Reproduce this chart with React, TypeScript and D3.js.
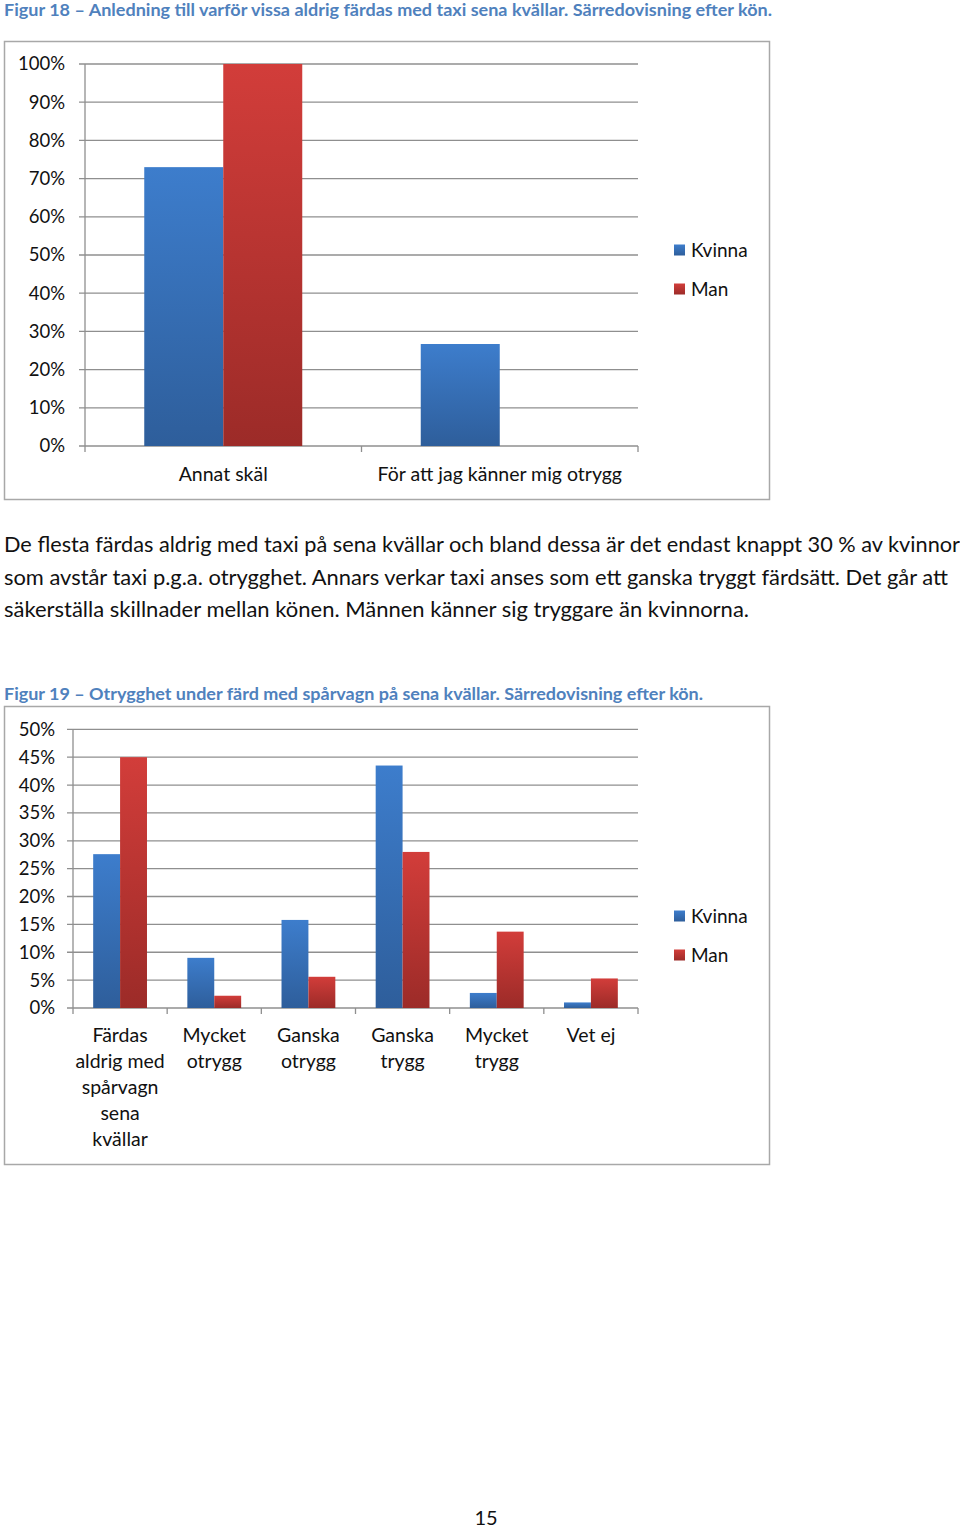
import React from "react";
import * as d3 from "d3";

const series = ["Kvinna", "Man"];
const seriesTop = ["#3d7dcc", "#d23d3a"];
const seriesBottom = ["#2e5e9b", "#9c2b28"];

const chart1Categories = [["Annat skäl"], ["För att jag känner mig otrygg"]];
const chart1Kvinna = [73, 26.7];
const chart1Man = [100, 0];
const chart1Ticks = [0, 10, 20, 30, 40, 50, 60, 70, 80, 90, 100];

const chart2Categories = [
  ["Färdas", "aldrig med", "spårvagn", "sena", "kvällar"],
  ["Mycket", "otrygg"],
  ["Ganska", "otrygg"],
  ["Ganska", "trygg"],
  ["Mycket", "trygg"],
  ["Vet ej"],
];
const chart2Kvinna = [27.6, 9.0, 15.8, 43.5, 2.7, 1.0];
const chart2Man = [45.0, 2.2, 5.6, 28.0, 13.7, 5.3];
const chart2Ticks = [0, 5, 10, 15, 20, 25, 30, 35, 40, 45, 50];

const title1 = "Figur 18 – Anledning till varför vissa aldrig färdas med taxi sena kvällar. Särredovisning efter kön.";
const title2 = "Figur 19 – Otrygghet under färd med spårvagn på sena kvällar. Särredovisning efter kön.";
const paragraph = [
  "De flesta färdas aldrig med taxi på sena kvällar och bland dessa är det endast knappt 30 % av kvinnor",
  "som avstår taxi p.g.a. otrygghet. Annars verkar taxi anses som ett ganska tryggt färdsätt. Det går att",
  "säkerställa skillnader mellan könen. Männen känner sig tryggare än kvinnorna.",
];
const pageNumber = "15";

const FONT = "Lato, 'Noto Sans', sans-serif";

type ChartProps = {
  id: string;
  frame: { x: number; y: number; w: number; h: number };
  axisX: number;
  axisRight: number;
  yTop: number;
  yBottom: number;
  yMax: number;
  ticks: number[];
  tickLabelX: number;
  categories: string[][];
  kvinna: number[];
  man: number[];
  catLabelY: number;
  lineHeight: number;
  legendY: number[];
};

function BarChart(p: ChartProps) {
  const catNames = p.categories.map((c) => c.join(" "));
  const x0 = d3.scaleBand<string>().domain(catNames).range([p.axisX, p.axisRight]).padding(0);
  const x1 = d3
    .scaleBand<string>()
    .domain(series)
    .range([0, x0.bandwidth()])
    .paddingInner(0)
    .paddingOuter(0.75);
  const y = d3.scaleLinear().domain([0, p.yMax]).range([p.yBottom, p.yTop]);
  const values = [p.kvinna, p.man];
  const boundaries = catNames.map((c) => x0(c) as number).concat([p.axisRight]);
  return (
    <g>
      <defs>
        {series.map((s, i) => (
          <linearGradient key={s} id={`${p.id}-g${i}`} x1="0" y1="0" x2="0" y2="1">
            <stop offset="0" stopColor={seriesTop[i]} />
            <stop offset="1" stopColor={seriesBottom[i]} />
          </linearGradient>
        ))}
      </defs>
      <rect x={p.frame.x} y={p.frame.y} width={p.frame.w} height={p.frame.h} fill="#fff" stroke="#a8a8a8" strokeWidth={1.5} />
      {p.ticks.map((t) => (
        <g key={t}>
          <line x1={p.axisX - 6} x2={p.axisRight} y1={y(t)} y2={y(t)} stroke="#8f8f8f" strokeWidth={1.3} />
          <text x={p.tickLabelX} y={y(t)} dy="0.35em" textAnchor="end" fontFamily={FONT} fontSize={18.5} fill="#111">
            {t}%
          </text>
        </g>
      ))}
      <line x1={p.axisX} x2={p.axisX} y1={y(p.yMax)} y2={y(0)} stroke="#8f8f8f" strokeWidth={1.3} />
      {boundaries.map((b, i) => (
        <line key={i} x1={b} x2={b} y1={y(0)} y2={y(0) + 6} stroke="#8f8f8f" strokeWidth={1.3} />
      ))}
      {catNames.map((c, ci) =>
        series.map((s, si) => {
          const v = values[si][ci];
          if (!v) return null;
          const bx = (x0(c) as number) + (x1(s) as number);
          return (
            <rect
              key={c + s}
              x={bx}
              y={y(v)}
              width={x1.bandwidth()}
              height={y(0) - y(v)}
              fill={`url(#${p.id}-g${si})`}
            />
          );
        })
      )}
      {p.categories.map((lines, ci) => (
        <text
          key={ci}
          x={(x0(catNames[ci]) as number) + x0.bandwidth() / 2}
          y={p.catLabelY}
          textAnchor="middle"
          fontFamily={FONT}
          fontSize={19.5}
          fill="#111"
        >
          {lines.map((l, li) => (
            <tspan key={li} x={(x0(catNames[ci]) as number) + x0.bandwidth() / 2} dy={li === 0 ? "0.35em" : p.lineHeight}>
              {l}
            </tspan>
          ))}
        </text>
      ))}
      {series.map((s, i) => (
        <g key={s}>
          <rect x={674} y={p.legendY[i] - 5.5} width={11} height={11} fill={`url(#${p.id}-g${i})`} />
          <text x={691} y={p.legendY[i]} dy="0.35em" fontFamily={FONT} fontSize={19} fill="#111">
            {s}
          </text>
        </g>
      ))}
    </g>
  );
}

export default function App() {
  return (
    <svg
      width={960}
      height={1528}
      viewBox="0 0 960 1528"
      style={{ position: "absolute", left: 0, top: 0, background: "#fff" }}
    >
      <rect x={0} y={0} width={960} height={1528} fill="#fff" />
      <text x={4} y={16} fontFamily={FONT} fontWeight="bold" fontSize={17} fill="#4f81bd" textLength={768} lengthAdjust="spacingAndGlyphs">
        {title1}
      </text>
      <BarChart
        id="c1"
        frame={{ x: 4.5, y: 41.5, w: 765, h: 458 }}
        axisX={85}
        axisRight={638}
        yTop={64}
        yBottom={446}
        yMax={100}
        ticks={chart1Ticks}
        tickLabelX={65}
        categories={chart1Categories}
        kvinna={chart1Kvinna}
        man={chart1Man}
        catLabelY={474}
        lineHeight={26}
        legendY={[250, 289]}
      />
      {paragraph.map((l, i) => (
        <text
          key={i}
          x={4}
          y={552 + i * 32.5}
          fontFamily={FONT}
          fontSize={21}
          fill="#111"
          textLength={[956, 944, 745][i]}
          lengthAdjust="spacingAndGlyphs"
        >
          {l}
        </text>
      ))}
      <text x={4} y={700} fontFamily={FONT} fontWeight="bold" fontSize={17} fill="#4f81bd" textLength={699} lengthAdjust="spacingAndGlyphs">
        {title2}
      </text>
      <BarChart
        id="c2"
        frame={{ x: 4.5, y: 706.5, w: 765, h: 458 }}
        axisX={73}
        axisRight={638}
        yTop={729.3}
        yBottom={1008}
        yMax={50}
        ticks={chart2Ticks}
        tickLabelX={55}
        categories={chart2Categories}
        kvinna={chart2Kvinna}
        man={chart2Man}
        catLabelY={1035}
        lineHeight={26}
        legendY={[916, 955]}
      />
      <text x={486} y={1518} dy="0.35em" textAnchor="middle" fontFamily={FONT} fontSize={20} fill="#111">
        {pageNumber}
      </text>
    </svg>
  );
}
